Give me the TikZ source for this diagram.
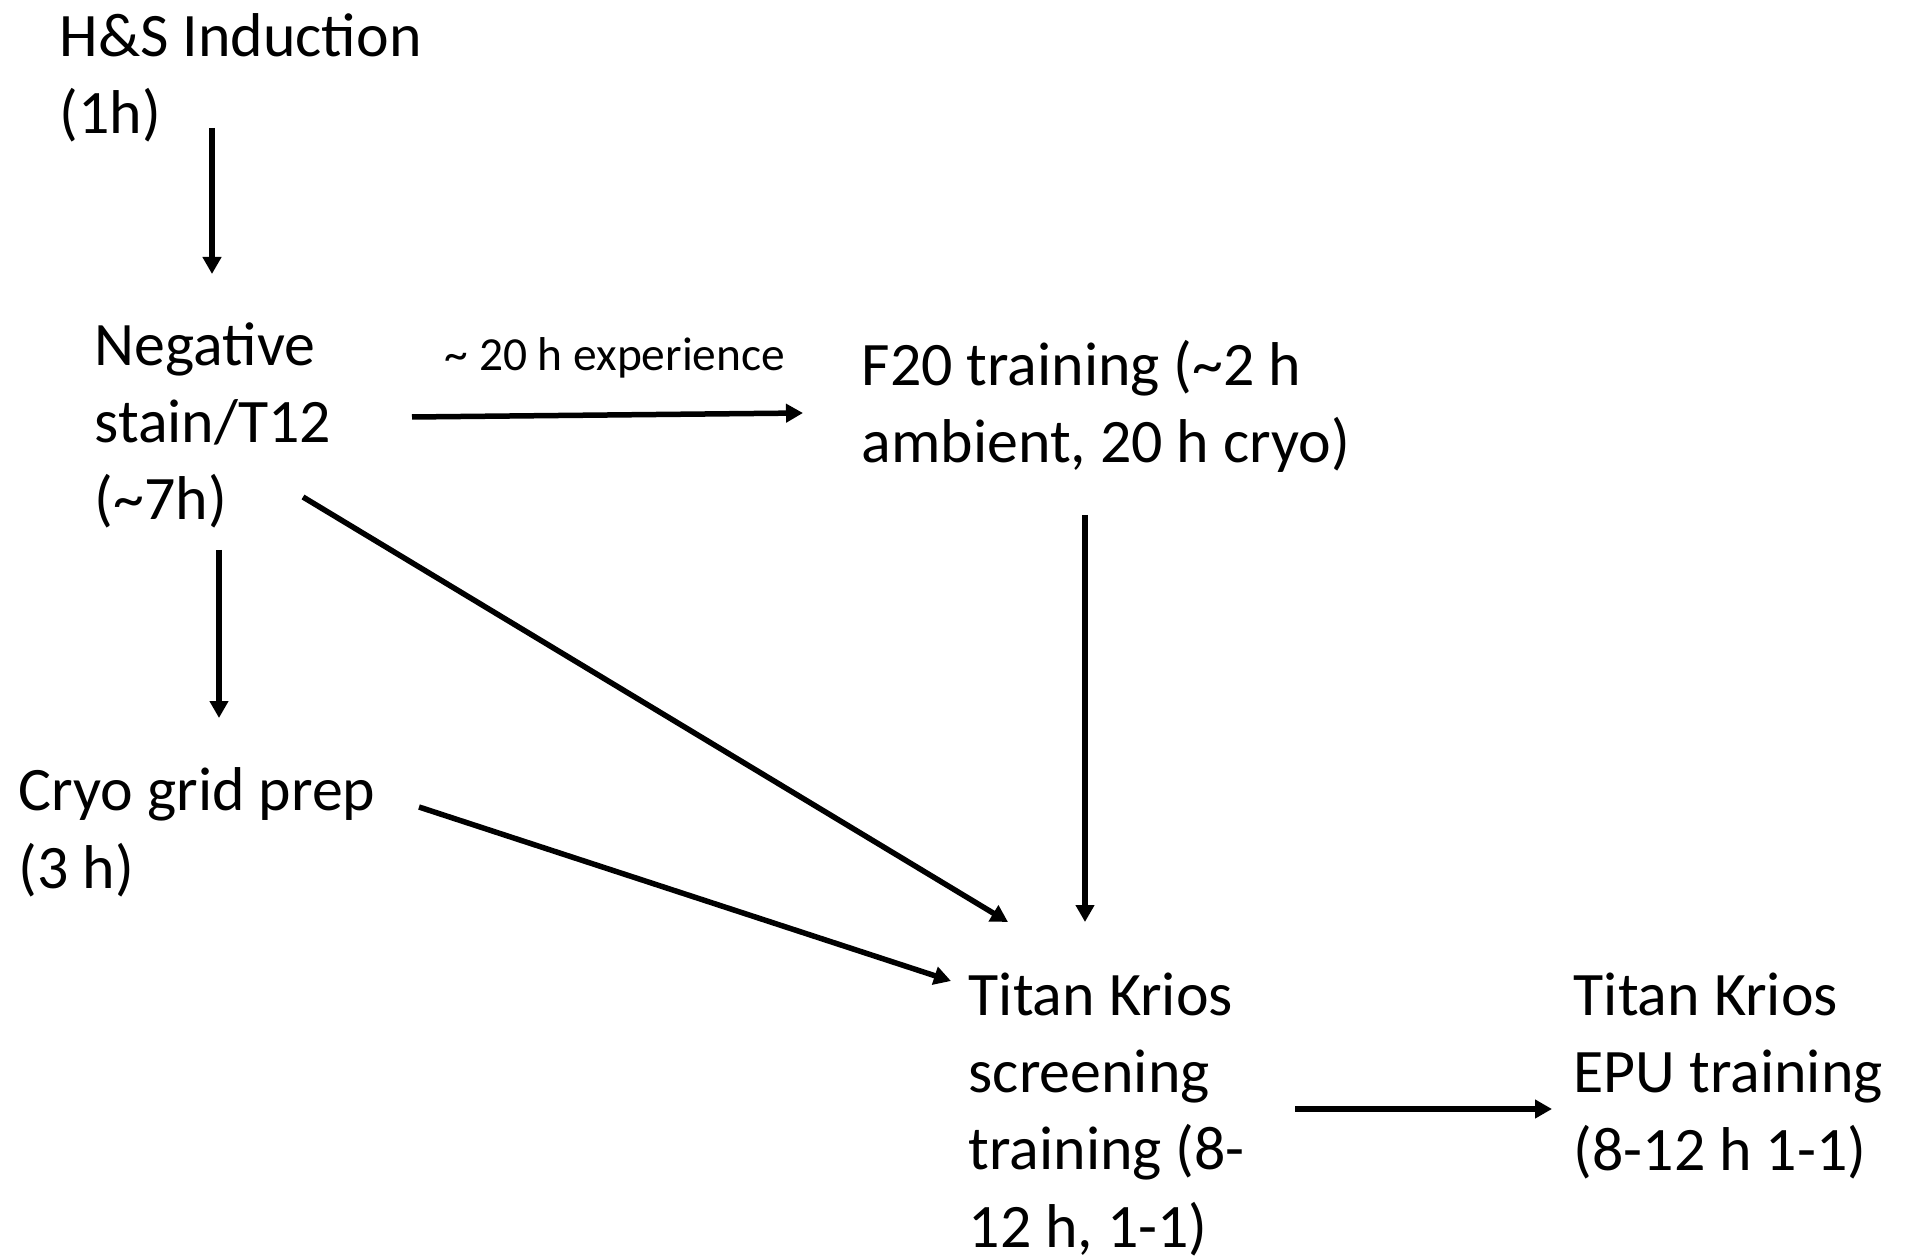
\documentclass[tikz,border=0pt]{standalone}
\usepackage{fontspec}
\setmainfont{Carlito}
\usetikzlibrary{arrows.meta, positioning}

\begin{document}
\begin{tikzpicture}[x=0.1mm, y=-0.1mm,
    txt/.style={anchor=base west,
                align=left,
                inner sep=0pt,
                font=\fontsize{17.6pt}{22pt}\selectfont},
    hint/.style={anchor=base west,
                 inner sep=0pt,
                 font=\fontsize{13.5pt}{15pt}\selectfont},
    flow/.style={-{Triangle[length=1.7mm, width=1.8mm]},
                 line width=0.55mm}]

    \useasboundingbox (0,0) rectangle (1906,1258);

    % base west sits on the last line
    \node[txt] (hs)   at (59,134)   {H\&S Induction\\(1h)};
    \node[txt] (neg)  at (94,520)   {Negative\\stain/T12\\(\textasciitilde7h)};
    \node[txt] (f20)  at (861,463)  {F20 training (\textasciitilde2 h\\ambient, 20 h cryo)};
    \node[txt] (cryo) at (18,888)   {Cryo grid prep\\(3 h)};
    \node[txt] (scr)  at (968,1247) {Titan Krios\\screening\\training (8-\\12 h, 1-1)};
    \node[txt] (epu)  at (1573,1170) {Titan Krios\\EPU training\\(8-12 h 1-1)};

    \node[hint] (exp) at (444,371) {\textasciitilde{} 20 h experience};

    % arrow ends
    \coordinate (hs-out)  at (212,128);
    \coordinate (neg-in)  at (212,274);
    \coordinate (neg-r)   at (412,417);
    \coordinate (f20-in)  at (803,413);
    \coordinate (neg-d)   at (219,550);
    \coordinate (cryo-in) at (219,718);
    \coordinate (neg-dr)  at (303,497);
    \coordinate (scr-a)   at (1008,922);
    \coordinate (cryo-r)  at (419,807);
    \coordinate (scr-b)   at (951,981);
    \coordinate (f20-d)   at (1085,515);
    \coordinate (scr-c)   at (1085,922);
    \coordinate (scr-r)   at (1295,1109);
    \coordinate (epu-in)  at (1552,1109);

    \draw[flow] (hs-out) -- (neg-in);
    \draw[flow] (neg-r) -- (f20-in);
    \draw[flow] (neg-d) -- (cryo-in);
    \draw[flow] (neg-dr) -- (scr-a);
    \draw[flow] (cryo-r) -- (scr-b);
    \draw[flow] (f20-d) -- (scr-c);
    \draw[flow] (scr-r) -- (epu-in);
\end{tikzpicture}
\end{document}
